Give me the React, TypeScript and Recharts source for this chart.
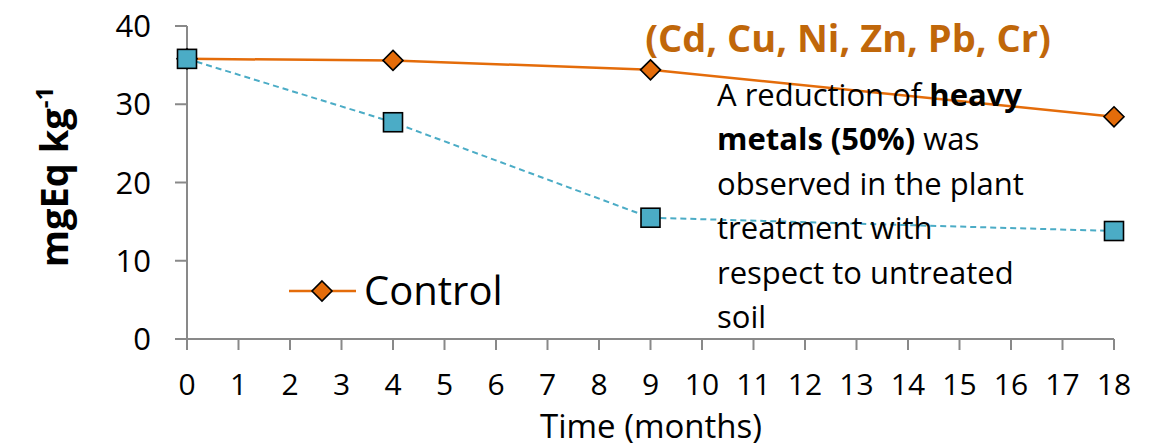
import React from 'react';
import { LineChart, Line, XAxis, YAxis } from 'recharts';

const months = [0, 4, 9, 18];
const control = [35.8, 35.6, 34.4, 28.4];
const treated = [35.8, 27.7, 15.5, 13.8];
const xTicks = [0, 1, 2, 3, 4, 5, 6, 7, 8, 9, 10, 11, 12, 13, 14, 15, 16, 17, 18];
const yTicks = [0, 10, 20, 30, 40];
const titleText = '(Cd, Cu, Ni, Zn, Pb, Cr)';
const legendLabel = 'Control';

const data = months.map((m, i) => ({ month: m, control: control[i], treated: treated[i] }));

const ORANGE = '#E46C0A';
const BLUE = '#4BACC6';
const AXIS = '#898989';
const FONT = '"Open Sans", sans-serif';

const Diamond = (props: any) => {
  const { cx, cy } = props;
  if (cx == null || cy == null) return <g key={props.key} />;
  const r = 10;
  return (
    <path
      key={props.key}
      d={`M${cx},${cy - r}L${cx + r},${cy}L${cx},${cy + r}L${cx - r},${cy}Z`}
      fill={ORANGE}
      stroke="#000"
      strokeWidth={1.6}
    />
  );
};

const Square = (props: any) => {
  const { cx, cy } = props;
  if (cx == null || cy == null) return <g key={props.key} />;
  const h = 9.5;
  return (
    <rect key={props.key} x={cx - h} y={cy - h} width={2 * h} height={2 * h} fill={BLUE} stroke="#000" strokeWidth={1.6} />
  );
};

export default function App() {
  return (
    <div style={{ position: 'absolute', left: 0, top: 0, width: 1153, height: 447, background: '#fff' }}>
      <LineChart
        width={1153}
        height={447}
        data={data}
        margin={{ top: 26, right: 39, bottom: 78, left: 127 }}
        style={{ fontFamily: FONT }}
      >
        <XAxis
          dataKey="month"
          type="number"
          domain={[0, 18]}
          ticks={xTicks}
          interval={0}
          height={30}
          stroke={AXIS}
          strokeWidth={2}
          tickSize={11}
          tickMargin={24}
          tick={{ fill: '#000', fontSize: 30, fontFamily: FONT }}
        />
        <YAxis
          type="number"
          domain={[0, 40]}
          ticks={yTicks}
          width={60}
          stroke={AXIS}
          strokeWidth={2}
          tickSize={12}
          tickMargin={24}
          tick={{ fill: '#000', fontSize: 31, fontFamily: FONT }}
        />
        <Line
          dataKey="control"
          stroke={ORANGE}
          strokeWidth={2.5}
          dot={Diamond}
          activeDot={false}
          isAnimationActive={false}
        />
        <Line
          dataKey="treated"
          stroke={BLUE}
          strokeWidth={2}
          strokeDasharray="6 4"
          dot={Square}
          activeDot={false}
          isAnimationActive={false}
        />
      </LineChart>
      <svg
        width={1153}
        height={447}
        style={{ position: 'absolute', left: 0, top: 0, pointerEvents: 'none', fontFamily: FONT }}
      >
        <text
          x={0}
          y={0}
          transform="translate(68,177) rotate(-90)"
          textAnchor="middle"
          fontSize={38}
          fontWeight="bold"
          fill="#000"
        >
          mgEq kg
          <tspan fontSize={24} dy={-15}>-1</tspan>
        </text>
        <text x={651} y={438} textAnchor="middle" fontSize={33} fill="#000">
          Time (months)
        </text>
        <text x={848} y={52} textAnchor="middle" fontSize={38} fontWeight="bold" fill="#C0670A">
          {titleText}
        </text>
        <g>
          <line x1={289} y1={291} x2={356} y2={291} stroke={ORANGE} strokeWidth={2.5} />
          <path d="M322,281L332,291L322,301L312,291Z" fill={ORANGE} stroke="#000" strokeWidth={1.6} />
          <text x={364} y={305} fontSize={40} fill="#000">{legendLabel}</text>
        </g>
        <g fontSize={31} fill="#000">
          <text x={717} y={106}>
            A reduction of <tspan fontWeight="bold">heavy</tspan>
          </text>
          <text x={717} y={150}>
            <tspan fontWeight="bold">metals (50%)</tspan> was
          </text>
          <text x={717} y={195}>observed in the plant</text>
          <text x={717} y={239}>treatment with</text>
          <text x={717} y={284}>respect to untreated</text>
          <text x={717} y={328}>soil</text>
        </g>
      </svg>
    </div>
  );
}
